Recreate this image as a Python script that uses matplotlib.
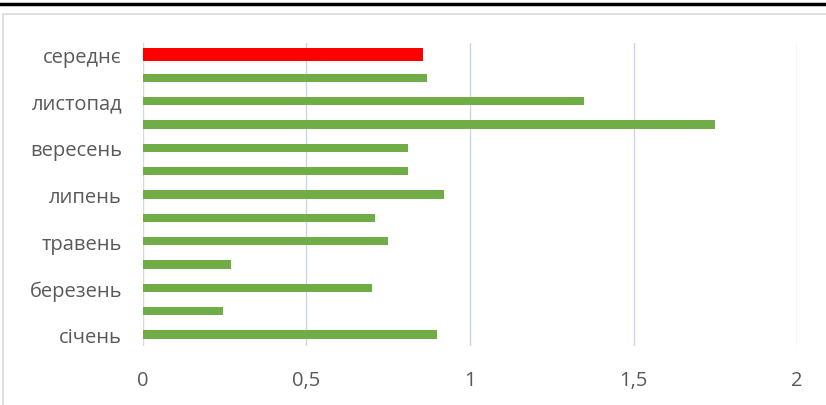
import matplotlib.pyplot as plt
from matplotlib.lines import Line2D
from matplotlib.patches import Rectangle

plt.rcParams['font.family'] = ['Open Sans', 'DejaVu Sans']

# дані
months = ['січень', 'лютий', 'березень', 'квітень', 'травень', 'червень', 'липень',
          'серпень', 'вересень', 'жовтень', 'листопад', 'грудень', 'середнє']
values = [0.90, 0.245, 0.70, 0.27, 0.75, 0.71, 0.92, 0.81, 0.81, 1.75, 1.35, 0.87, 0.855]
x_ticks = [0, 0.5, 1, 1.5, 2]
x_labels = ['0', '0,5', '1', '1,5', '2']

fig = plt.figure(figsize=(8.26, 4.06), dpi=100)
ax = fig.add_axes([0.173, 0.145, 0.792, 0.747])

# чорна лінія зверху та рамка діаграми
fig.add_artist(Line2D([0, 1], [0.988, 0.988], color='black', linewidth=2.5))
fig.add_artist(Rectangle((0.004, -0.1), 1.1, 1.063, fill=False,
                         edgecolor='#d9d9d9', linewidth=1.2))

pos = list(range(len(months)))
colors = ['#70ad47'] * (len(months) - 1) + ['#ff0000']
heights = [0.36] * (len(months) - 1) + [0.55]
ax.barh(pos, values, height=heights, color=colors, zorder=3)

ax.set_xlim(0, 2)
ax.set_ylim(-0.5, len(months) - 0.5)
ax.set_xticks(x_ticks)
ax.set_xticklabels(x_labels)
ax.set_yticks(pos)
ax.set_yticklabels([m if i % 2 == 0 else '' for i, m in enumerate(months)])

ax.grid(axis='x', color='#c9d5ea', linewidth=1, zorder=0)
ax.axvline(0, color='#d9d9d9', linewidth=1.2, zorder=2)
for s in ax.spines.values():
    s.set_visible(False)
ax.tick_params(length=0, labelsize=14.5, labelcolor='#595959')
ax.tick_params(axis='x', pad=17)
ax.tick_params(axis='y', pad=15)

plt.savefig('out.png', dpi=100)
